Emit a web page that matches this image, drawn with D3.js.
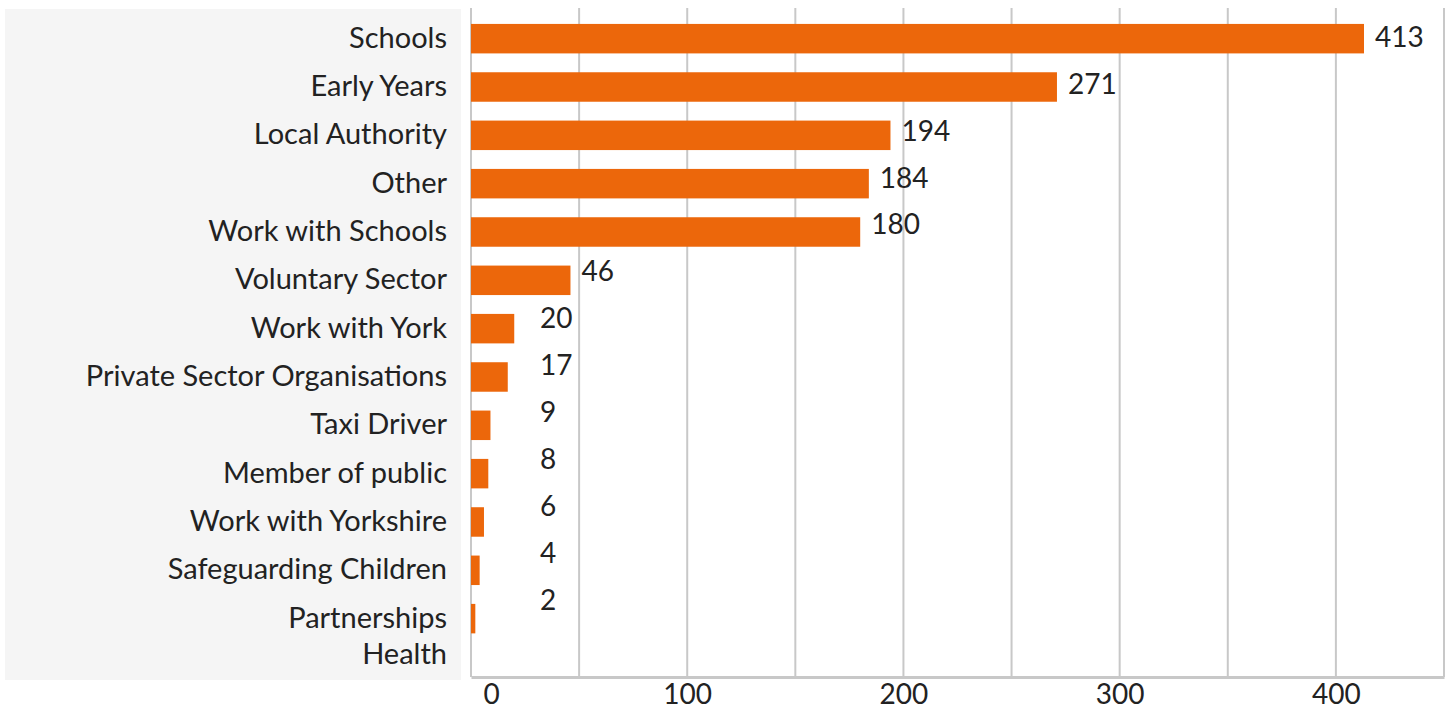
<!DOCTYPE html>
<html>
<head>
<meta charset="utf-8">
<script src="https://cdn.jsdelivr.net/npm/d3@7"></script>
<style>
  body { margin: 0; background: #fff; }
  svg text { font-family: Lato, "Open Sans", sans-serif; fill: #222; }
</style>
</head>
<body>
<div id="chart"></div>
<script>
'use strict';

// data
var categories = ['Schools', 'Early Years', 'Local Authority', 'Other', 'Work with Schools',
  'Voluntary Sector', 'Work with York', 'Private Sector Organisations', 'Taxi Driver',
  'Member of public', 'Work with Yorkshire', 'Safeguarding Children', 'Partnerships Health'];
var values = [413, 271, 194, 184, 180, 46, 20, 17, 9, 8, 6, 4, 2];
var ticks = [0, 100, 200, 300, 400];

var width = 1450, height = 712;
var svg = d3.select('#chart').append('svg')
    .attr('width', width)
    .attr('height', height);

var x = d3.scaleLinear().domain([0, 450]).range([471, 1444]);
var y = d3.scaleBand().domain(categories).range([14.5, 642.8])
    .paddingInner(0.39).paddingOuter(0.195);
// value labels sit on their own evenly spaced rows
var labelY = d3.scalePoint().domain(categories).range([37, 600]);

var data = categories.map(function(c, i) { return {name: c, value: values[i]}; });

// label panel
svg.append('rect')
    .attr('x', 5).attr('y', 9)
    .attr('width', 456).attr('height', 671)
    .attr('fill', '#f5f5f5');

// vertical grid
svg.selectAll('line.grid')
    .data(d3.range(0, 451, 50))
    .enter()
      .append('line')
      .attr('class', 'grid')
      .attr('x1', function(d) { return x(d); })
      .attr('x2', function(d) { return x(d); })
      .attr('y1', 8)
      .attr('y2', 677)
      .attr('stroke', '#c8c8c8')
      .attr('stroke-width', 2);

// bottom axis
var xAxis = d3.axisBottom(x).tickValues(ticks).tickSize(0).tickPadding(7);
var gx = svg.append('g').attr('transform', 'translate(0,677)').call(xAxis);
gx.select('.domain').attr('stroke', '#c8c8c8').attr('stroke-width', 3);
gx.selectAll('text')
    .style('font-size', '28px')
    .attr('dx', function(d) { return d === 0 ? 20 : 0; });

// bars
svg.selectAll('rect.bar')
    .data(data)
    .enter()
      .append('rect')
      .attr('class', 'bar')
      .attr('x', x(0))
      .attr('y', function(d) { return y(d.name); })
      .attr('width', function(d) { return x(d.value) - x(0); })
      .attr('height', y.bandwidth())
      .attr('fill', '#ec670b');

// category labels (last one wraps onto two lines)
var cat = svg.selectAll('text.cat')
    .data(data)
    .enter()
      .append('text')
      .attr('class', 'cat')
      .attr('text-anchor', 'end')
      .attr('x', 447)
      .attr('y', function(d) { return y(d.name) + y.bandwidth() / 2 - 1; })
      .style('font-size', '29px');
cat.each(function(d) {
  var t = d3.select(this);
  var words = d.name === 'Partnerships Health' ? d.name.split(' ') : [d.name];
  words.forEach(function(w, i) {
    t.append('tspan')
      .attr('x', 447)
      .attr('dy', i === 0 ? '0.35em' : '1.25em')
      .text(w);
  });
});

// value labels
svg.selectAll('text.val')
    .data(data)
    .enter()
      .append('text')
      .attr('class', 'val')
      .attr('x', function(d) { return Math.max(x(d.value) + 11, x(0) + 69); })
      .attr('y', function(d) { return labelY(d.name); })
      .attr('dy', '0.35em')
      .style('font-size', '28px')
      .text(function(d) { return d.value; });
</script>
</body>
</html>
